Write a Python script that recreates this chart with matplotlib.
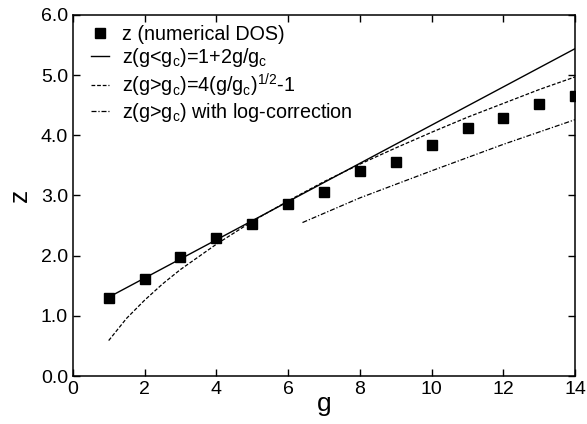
import matplotlib
matplotlib.use("Agg")
import matplotlib.pyplot as plt

plt.rcParams['font.family'] = ['Liberation Sans', 'DejaVu Sans']
plt.rcParams['mathtext.default'] = 'regular'

# numerical DOS points
g_num = [1, 2, 3, 4, 5, 6, 7, 8, 9, 10, 11, 12, 13, 14]
z_num = [1.29, 1.62, 1.97, 2.30, 2.53, 2.85, 3.06, 3.41, 3.55, 3.83, 4.12, 4.29, 4.52, 4.65]

# z(g<gc) = 1+2g/gc (straight line)
g_lin = [1, 14]
z_lin = [1.31, 5.44]

# z(g>gc) = 4(g/gc)^1/2 - 1
g_sqrt = [1, 1.5, 2, 2.5, 3, 4, 5, 6, 7, 8, 9, 10, 11, 12, 13, 14]
z_sqrt = [0.59, 0.96, 1.26, 1.53, 1.77, 2.19, 2.57, 2.91, 3.23, 3.52, 3.79, 4.05, 4.30, 4.53, 4.76, 4.97]

# z(g>gc) with log-correction
g_log = [6.4, 8, 10, 12, 14]
z_log = [2.55, 2.96, 3.41, 3.85, 4.26]

fig = plt.figure(figsize=(5.87, 4.24), dpi=100)
ax = fig.add_axes([0.124, 0.113, 0.856, 0.852])

ax.plot(g_num, z_num, 's', color='black', markersize=7, label='z (numerical DOS)')
ax.plot(g_lin, z_lin, '-', color='black', lw=1.0, label='z(g<g$_c$)=1+2g/g$_c$')
ax.plot(g_sqrt, z_sqrt, color='black', lw=0.9, dashes=(3, 1.5),
        label='z(g>g$_c$)=4(g/g$_c$)$^{1/2}$-1')
ax.plot(g_log, z_log, color='black', lw=0.9, dashes=(4, 1.5, 1, 1.5),
        label='z(g>g$_c$) with log-correction')

ax.set_xlim(0, 14)
ax.set_ylim(0, 6)
ax.set_xticks(range(0, 15, 2))
ax.set_yticks([0, 1, 2, 3, 4, 5, 6])
ax.set_yticklabels(['0.0', '1.0', '2.0', '3.0', '4.0', '5.0', '6.0'])
ax.tick_params(direction='in', top=True, right=True, labelsize=14, length=5, width=1)
for s in ax.spines.values():
    s.set_linewidth(1.1)

ax.set_xlabel('g', fontsize=19, labelpad=-4)
ax.set_ylabel('z', fontsize=19, labelpad=6)

ax.legend(loc='upper left', frameon=False, fontsize=14.2, handlelength=0.95,
          handletextpad=0.65, labelspacing=0.12, borderaxespad=0.1,
          bbox_to_anchor=(0.016, 1.0))

fig.savefig('out.png', dpi=100)
